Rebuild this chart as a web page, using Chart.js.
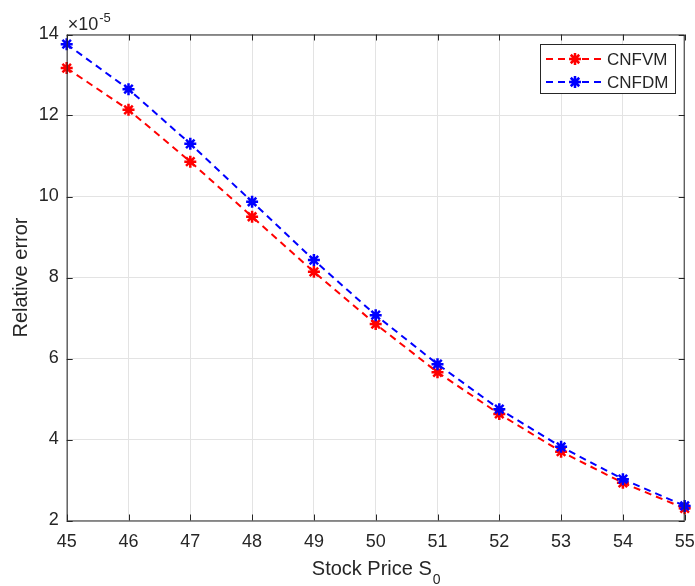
<!DOCTYPE html>
<html>
<head>
<meta charset="utf-8">
<script src="https://cdn.jsdelivr.net/npm/chart.js@4.4.0/dist/chart.umd.min.js"></script>
<style>
  html, body { margin: 0; padding: 0; background: #ffffff; }
  #wrap { width: 695px; height: 586px; }
</style>
</head>
<body>
<div id="wrap"><canvas id="errChart" width="695" height="586"></canvas></div>
<script>
// Relative error (in units of 1e-5) against the initial stock price
const stockPrice = [45, 46, 47, 48, 49, 50, 51, 52, 53, 54, 55];
const errCNFVM = [13.17, 12.14, 10.86, 9.50, 8.14, 6.85, 5.66, 4.63, 3.70, 2.93, 2.30];
const errCNFDM = [13.76, 12.65, 11.30, 9.87, 8.43, 7.07, 5.86, 4.75, 3.82, 3.02, 2.36];
const seriesNames = ['CNFVM', 'CNFDM'];
const seriesColors = ['#ff0000', '#0000ff'];
const xTitle = 'Stock Price S';
const xTitleSub = '0';
const yTitle = 'Relative error';
const yExponent = '-5';

const FONT = "'Liberation Sans', Arial, sans-serif";
const INK = '#262626';
const DASH = [7, 5];

function toPoints(ys) {
    return stockPrice.map((x, i) => ({ x: x, y: ys[i] }));
}

function drawStar(ctx, x, y, r) {
    ctx.beginPath();
    ctx.moveTo(x - r, y); ctx.lineTo(x + r, y);
    ctx.moveTo(x, y - r); ctx.lineTo(x, y + r);
    const d = r * Math.SQRT1_2;
    ctx.moveTo(x - d, y - d); ctx.lineTo(x + d, y + d);
    ctx.moveTo(x - d, y + d); ctx.lineTo(x + d, y - d);
    ctx.stroke();
}

// Box, inward ticks, titles, exponent and legend in MATLAB style
const decorPlugin = {
    id: 'decor',
    afterDraw(chart) {
        const ctx = chart.ctx;
        const a = chart.chartArea;
        const xs = chart.scales.x, ys = chart.scales.y;
        ctx.save();

        // axes box
        ctx.strokeStyle = INK;
        ctx.lineWidth = 1;
        ctx.setLineDash([]);
        ctx.strokeRect(a.left + 0.5, a.top + 0.5, a.right - a.left - 1, a.bottom - a.top);

        // inward ticks on all four sides
        const tl = 6;
        ctx.beginPath();
        xs.ticks.forEach(t => {
            const px = Math.round(xs.getPixelForValue(t.value)) + 0.5;
            ctx.moveTo(px, a.bottom); ctx.lineTo(px, a.bottom - tl);
            ctx.moveTo(px, a.top); ctx.lineTo(px, a.top + tl);
        });
        ys.ticks.forEach(t => {
            const py = Math.round(ys.getPixelForValue(t.value)) + 0.5;
            ctx.moveTo(a.left, py); ctx.lineTo(a.left + tl, py);
            ctx.moveTo(a.right, py); ctx.lineTo(a.right - tl, py);
        });
        ctx.stroke();

        ctx.fillStyle = INK;

        // exponent label above the y axis
        ctx.textBaseline = 'alphabetic';
        ctx.textAlign = 'left';
        ctx.font = '18px ' + FONT;
        ctx.fillText('\u00d710', a.left + 1, 30);
        const w10 = ctx.measureText('\u00d710').width;
        ctx.font = '13px ' + FONT;
        ctx.fillText(yExponent, a.left + 2 + w10, 22);

        // x axis title with subscript
        ctx.font = '20px ' + FONT;
        const wMain = ctx.measureText(xTitle).width;
        ctx.font = '14px ' + FONT;
        const wSub = ctx.measureText(xTitleSub).width;
        const cx = (a.left + a.right) / 2;
        const x0 = cx - (wMain + wSub) / 2;
        ctx.font = '20px ' + FONT;
        ctx.fillText(xTitle, x0, 575);
        ctx.font = '14px ' + FONT;
        ctx.fillText(xTitleSub, x0 + wMain + 1, 584);

        // y axis title
        ctx.save();
        ctx.translate(27, (a.top + a.bottom) / 2);
        ctx.rotate(-Math.PI / 2);
        ctx.textAlign = 'center';
        ctx.font = '20px ' + FONT;
        ctx.fillText(yTitle, 0, 0);
        ctx.restore();

        // legend
        const bx = 540.5, by = 44.5, bw = 135, bh = 49;
        ctx.fillStyle = '#ffffff';
        ctx.fillRect(bx, by, bw, bh);
        ctx.strokeStyle = INK;
        ctx.lineWidth = 1;
        ctx.strokeRect(bx, by, bw, bh);
        const rows = [59, 82];
        seriesNames.forEach((name, i) => {
            const ry = rows[i];
            ctx.strokeStyle = seriesColors[i];
            ctx.lineWidth = 2;
            ctx.setLineDash(DASH);
            ctx.beginPath();
            ctx.moveTo(546, ry); ctx.lineTo(604, ry);
            ctx.stroke();
            ctx.setLineDash([]);
            ctx.lineWidth = 2.5;
            drawStar(ctx, 575, ry, 6);
            ctx.fillStyle = INK;
            ctx.font = '17px ' + FONT;
            ctx.textAlign = 'left';
            ctx.textBaseline = 'middle';
            ctx.fillText(name, 607, ry + 1);
        });

        ctx.restore();
    }
};

function seriesOptions(i, values, order) {
    return {
        label: seriesNames[i],
        data: toPoints(values),
        borderColor: seriesColors[i],
        backgroundColor: seriesColors[i],
        borderWidth: 2,
        borderDash: DASH,
        pointStyle: 'star',
        pointRadius: 6,
        pointBorderWidth: 2.5,
        pointBorderColor: seriesColors[i],
        fill: false,
        tension: 0,
        clip: false,
        order: order
    };
}

const ctx = document.getElementById('errChart').getContext('2d');
new Chart(ctx, {
    type: 'line',
    data: {
        datasets: [
            seriesOptions(0, errCNFVM, 1),
            seriesOptions(1, errCNFDM, 0)
        ]
    },
    options: {
        responsive: false,
        animation: false,
        events: [],
        layout: { padding: { left: 0, right: 10.3, top: 34.5, bottom: 0 } },
        plugins: {
            legend: { display: false },
            tooltip: { enabled: false }
        },
        scales: {
            x: {
                type: 'linear',
                min: 45,
                max: 55,
                grid: { color: '#e3e3e3', drawTicks: false },
                border: { display: false },
                ticks: {
                    stepSize: 1,
                    color: INK,
                    padding: 11,
                    maxRotation: 0,
                    font: { family: FONT, size: 18 }
                },
                afterFit(scale) {
                    scale.height = 65.5;
                    scale.paddingLeft = 0;
                    scale.paddingRight = 0;
                }
            },
            y: {
                type: 'linear',
                min: 2,
                max: 14,
                grid: { color: '#e3e3e3', drawTicks: false },
                border: { display: false },
                ticks: {
                    stepSize: 2,
                    color: INK,
                    padding: 8,
                    font: { family: FONT, size: 18 }
                },
                afterFit(scale) {
                    scale.width = 66.7;
                    scale.paddingTop = 0;
                    scale.paddingBottom = 0;
                }
            }
        }
    },
    plugins: [decorPlugin]
});
</script>
</body>
</html>
